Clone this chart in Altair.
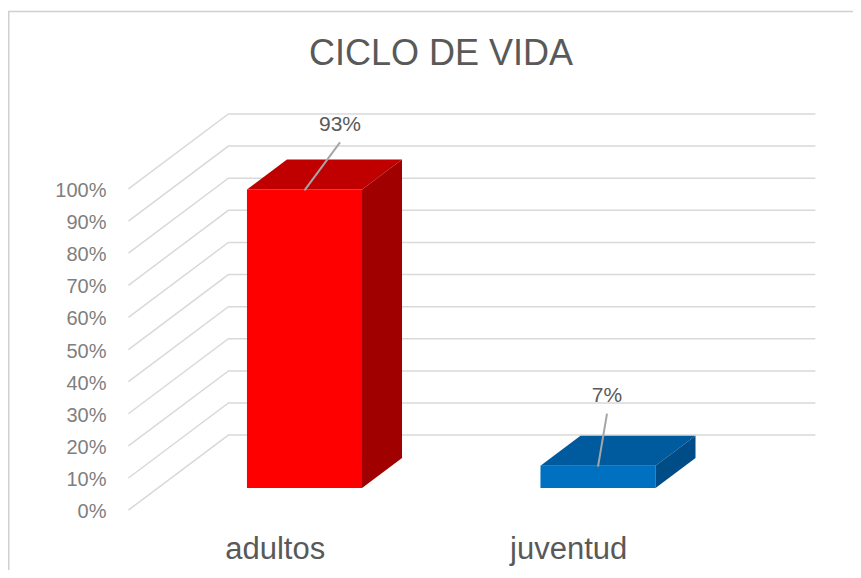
import altair as alt
import pandas as pd

# ---------------- data ----------------
categories = ["adultos", "juventud"]
values = [93, 7]                      # percent
value_labels = ["93%", "7%"]
y_ticks = [0, 10, 20, 30, 40, 50, 60, 70, 80, 90, 100]
y_tick_labels = ["0%", "10%", "20%", "30%", "40%", "50%", "60%", "70%", "80%", "90%", "100%"]
title_text = "CICLO DE VIDA"

# ---------------- styles / layout ----------------
front_colors = ["#FF0000", "#0070C0"]
top_colors = ["#C00000", "#005A9E"]
side_colors = ["#A00000", "#004C86"]
GRID = "#D9D9D9"
FONT = "Liberation Sans"

W, H = 845, 562
X_DOM = [-1.0102, 1.8688]
Y_DOM = [-25.5, 149.5]
PX_X = W / (X_DOM[1] - X_DOM[0])
PX_Y = H / (Y_DOM[1] - Y_DOM[0])
SLOPE = 1.333          # px right per px of depth
BAR_HALF = 0.196       # half bar width in category steps
BAR_DEPTH = 30         # px
WALL_DEPTH = 53        # px
FLOOR_FRONT = -22      # px
label_offsets = [(35.5, -64), (9, -70)]   # label centre offset (px) from bar top-front centre
leader_offsets = [(35.5, -47), (9, -52)]  # leader start offset (px)


def dxu(d):
    return SLOPE * d / PX_X


def dyu(d):
    return d / PX_Y


xs = alt.Scale(domain=X_DOM, nice=False, zero=False)
ys = alt.Scale(domain=Y_DOM, nice=False, zero=False)

# ---------------- tables ----------------
front_df = pd.DataFrame({
    "cat": categories,
    "x": [i - BAR_HALF for i in range(len(values))],
    "x2": [i + BAR_HALF for i in range(len(values))],
    "y": [0.0] * len(values),
    "y2": values,
    "col": front_colors,
})

top_rows, side_rows = [], []
for i, v in enumerate(values):
    for d in (0, BAR_DEPTH):
        top_rows.append({"bar": i, "y": v + dyu(d),
                         "xl": i - BAR_HALF + dxu(d), "xr": i + BAR_HALF + dxu(d),
                         "col": top_colors[i]})
        side_rows.append({"bar": i, "x": i + BAR_HALF + dxu(d),
                          "ylo": dyu(d), "yhi": v + dyu(d), "col": side_colors[i]})
top_df = pd.DataFrame(top_rows)
side_df = pd.DataFrame(side_rows)

n_cat = len(categories)
grid_rows = []
for t in y_ticks:
    grid_rows.append({"t": t, "o": 0, "x": -0.5 + dxu(FLOOR_FRONT), "y": t + dyu(FLOOR_FRONT)})
    grid_rows.append({"t": t, "o": 1, "x": -0.5 + dxu(WALL_DEPTH), "y": t + dyu(WALL_DEPTH)})
    grid_rows.append({"t": t, "o": 2, "x": n_cat - 0.5 + dxu(WALL_DEPTH), "y": t + dyu(WALL_DEPTH)})
grid_df = pd.DataFrame(grid_rows)

ytl_df = pd.DataFrame({"lab": y_tick_labels,
                       "x": [-0.5 + dxu(FLOOR_FRONT)] * len(y_ticks),
                       "y": [t + dyu(FLOOR_FRONT) for t in y_ticks]})

cat_df = pd.DataFrame({"lab": categories,
                       "x": [i + dxu(FLOOR_FRONT) for i in range(n_cat)],
                       "y": [dyu(FLOOR_FRONT)] * n_cat})

lab_df = pd.DataFrame({
    "lab": value_labels,
    "x": [i + label_offsets[i][0] / PX_X for i in range(n_cat)],
    "y": [values[i] - label_offsets[i][1] / PX_Y for i in range(n_cat)],
    "lx": [i + leader_offsets[i][0] / PX_X for i in range(n_cat)],
    "ly": [values[i] - leader_offsets[i][1] / PX_Y for i in range(n_cat)],
    "ex": [float(i) for i in range(n_cat)],
    "ey": [values[i] - 1 / PX_Y for i in range(n_cat)],
})

# ---------------- layers ----------------
grid = alt.Chart(grid_df).mark_line(color=GRID, strokeWidth=1.5).encode(
    x=alt.X("x:Q", scale=xs, axis=None),
    y=alt.Y("y:Q", scale=ys, axis=None),
    detail="t:N",
    order="o:Q",
)

front = alt.Chart(front_df).mark_rect().encode(
    x=alt.X("x:Q", scale=xs, axis=None), x2="x2:Q",
    y=alt.Y("y:Q", scale=ys, axis=None), y2="y2:Q",
    color=alt.Color("col:N", scale=None),
)

top = alt.Chart(top_df).mark_area(orient="horizontal").encode(
    y=alt.Y("y:Q", scale=ys, axis=None),
    x=alt.X("xl:Q", scale=xs, axis=None, stack=None), x2="xr:Q",
    detail="bar:N",
    color=alt.Color("col:N", scale=None),
)

side = alt.Chart(side_df).mark_area(orient="vertical").encode(
    x=alt.X("x:Q", scale=xs, axis=None),
    y=alt.Y("ylo:Q", scale=ys, axis=None, stack=None), y2="yhi:Q",
    detail="bar:N",
    color=alt.Color("col:N", scale=None),
)

leaders = alt.Chart(lab_df).mark_rule(color="#A6A6A6", strokeWidth=2).encode(
    x=alt.X("lx:Q", scale=xs, axis=None), x2="ex:Q",
    y=alt.Y("ly:Q", scale=ys, axis=None), y2="ey:Q",
)

vlabels = alt.Chart(lab_df).mark_text(font=FONT, fontSize=21, color="#595959",
                                      align="center", baseline="middle").encode(
    x=alt.X("x:Q", scale=xs, axis=None),
    y=alt.Y("y:Q", scale=ys, axis=None),
    text="lab:N",
)

ytl = alt.Chart(ytl_df).mark_text(font=FONT, fontSize=20, color="#7F7F7F",
                                  align="right", baseline="middle", dx=-22, dy=2).encode(
    x=alt.X("x:Q", scale=xs, axis=None),
    y=alt.Y("y:Q", scale=ys, axis=None),
    text="lab:N",
)

catl = alt.Chart(cat_df).mark_text(font=FONT, fontSize=31, color="#595959",
                                   align="center", baseline="middle", dy=40).encode(
    x=alt.X("x:Q", scale=xs, axis=None),
    y=alt.Y("y:Q", scale=ys, axis=None),
    text="lab:N",
)

title = alt.Chart(pd.DataFrame({"t": [title_text]})).mark_text(
    font=FONT, fontSize=36, color="#595959", align="center", baseline="middle"
).encode(x=alt.value(433), y=alt.value(46), text="t:N")

frame_top = alt.Chart(pd.DataFrame({"a": [0]})).mark_rule(color="#D0D0D0", strokeWidth=1.5).encode(
    x=alt.value(0), x2=alt.value(W), y=alt.value(3.5))
frame_left = alt.Chart(pd.DataFrame({"a": [0]})).mark_rule(color="#D0D0D0", strokeWidth=1.5).encode(
    x=alt.value(0.75), y=alt.value(3.5), y2=alt.value(H))

chart = alt.layer(
    grid, front, top, side, leaders, vlabels, ytl, catl, title, frame_top, frame_left
).properties(
    width=W, height=H, padding=0, autosize="none", background="white"
).configure_view(stroke=None, strokeWidth=0)

chart.save("out.html", embed_options={"renderer": "svg", "actions": False})
